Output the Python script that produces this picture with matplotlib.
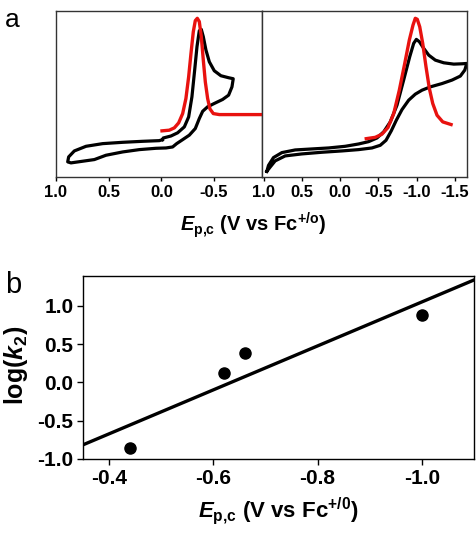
import numpy as np
import matplotlib
matplotlib.use("Agg")
import matplotlib.pyplot as plt

plt.rcParams["font.family"] = ["Liberation Sans", "DejaVu Sans"]
plt.rcParams["font.weight"] = "bold"
plt.rcParams["axes.unicode_minus"] = False
plt.rcParams["mathtext.fontset"] = "custom"
plt.rcParams["mathtext.rm"] = "Liberation Sans:bold"
plt.rcParams["mathtext.it"] = "Liberation Sans:bold:italic"
plt.rcParams["mathtext.bf"] = "Liberation Sans:bold"

# panel a, left: CV loop (potential in V vs Fc, current normalised)
cv1_e = [-0.01, -0.018, -0.091, -0.154, -0.218, -0.259, -0.290, -0.316, -0.338, -0.360,
         -0.379, -0.398, -0.423, -0.455, -0.502, -0.565, -0.638, -0.682, -0.670, -0.638,
         -0.581, -0.502, -0.439, -0.392, -0.360, -0.322, -0.265, -0.202, -0.145, -0.107,
         -0.044, 0.051, 0.209, 0.367, 0.526, 0.636, 0.747, 0.858, 0.889, 0.880,
         0.826, 0.715, 0.557, 0.367, 0.178, 0.020, -0.01]
cv1_i = [0.225, 0.235, 0.247, 0.266, 0.302, 0.362, 0.483, 0.644, 0.785, 0.881,
         0.889, 0.845, 0.765, 0.694, 0.640, 0.610, 0.598, 0.592, 0.543, 0.493,
         0.467, 0.443, 0.423, 0.396, 0.352, 0.292, 0.252, 0.225, 0.201, 0.181,
         0.175, 0.173, 0.165, 0.151, 0.131, 0.105, 0.095, 0.085, 0.091, 0.121,
         0.157, 0.185, 0.201, 0.209, 0.215, 0.219, 0.225]
fit1_e = [-0.006, -0.075, -0.123, -0.164, -0.202, -0.233, -0.259, -0.281, -0.303, -0.322,
          -0.341, -0.360, -0.379, -0.398, -0.417, -0.439, -0.461, -0.493, -0.550, -0.961, -0.985]
fit1_i = [0.278, 0.282, 0.296, 0.326, 0.382, 0.473, 0.604, 0.744, 0.875, 0.942,
          0.956, 0.936, 0.845, 0.704, 0.573, 0.473, 0.410, 0.382, 0.376, 0.376, 0.376]

# panel a, right
cv2_e = [0.957, 0.935, 0.870, 0.760, 0.586, 0.368, 0.149, -0.068, -0.243, -0.374,
         -0.483, -0.571, -0.657, -0.745, -0.832, -0.911, -0.963, -0.998, -1.037, -1.094,
         -1.160, -1.246, -1.356, -1.487, -1.596, -1.657, -1.631, -1.573, -1.465, -1.334,
         -1.181, -1.072, -0.984, -0.898, -0.810, -0.736, -0.670, -0.601, -0.526, -0.418,
         -0.243, -0.025, 0.237, 0.499, 0.717, 0.848, 0.913, 0.957]
cv2_i = [0.034, 0.070, 0.117, 0.147, 0.163, 0.169, 0.175, 0.185, 0.199, 0.213,
         0.235, 0.272, 0.332, 0.433, 0.584, 0.724, 0.805, 0.829, 0.815, 0.775,
         0.734, 0.704, 0.688, 0.680, 0.682, 0.684, 0.644, 0.608, 0.584, 0.563,
         0.543, 0.523, 0.499, 0.463, 0.406, 0.342, 0.278, 0.221, 0.191, 0.175,
         0.165, 0.157, 0.149, 0.139, 0.127, 0.097, 0.060, 0.034]
fit2_e = [-0.343, -0.461, -0.548, -0.627, -0.702, -0.775, -0.846, -0.906, -0.954, -0.984,
          -1.010, -1.042, -1.081, -1.124, -1.168, -1.212, -1.268, -1.343, -1.452]
fit2_i = [0.231, 0.239, 0.258, 0.298, 0.382, 0.523, 0.684, 0.825, 0.915, 0.956,
          0.950, 0.905, 0.805, 0.664, 0.533, 0.443, 0.372, 0.332, 0.316]

# panel b
ep = [-0.44, -0.62, -0.66, -1.00]
logk = [-0.85, 0.12, 0.38, 0.88]

W, H = 477, 534
fig = plt.figure(figsize=(W / 100, H / 100), dpi=100)

ax1 = fig.add_axes([56 / W, 1 - 177 / H, 206 / W, 166 / H])
ax2 = fig.add_axes([262 / W, 1 - 177 / H, 205 / W, 166 / H])

ax1.plot(cv1_e, cv1_i, color="black", lw=2.3, solid_joinstyle="round")
ax1.plot(fit1_e, fit1_i, color="#e8120f", lw=2.4, solid_joinstyle="round", clip_on=False, zorder=5)
ax2.plot(cv2_e, cv2_i, color="black", lw=2.3, solid_joinstyle="round")
ax2.plot(fit2_e, fit2_i, color="#e8120f", lw=2.4, solid_joinstyle="round")

ax1.set_xlim(1.0, -0.955)
ax2.set_xlim(1.02, -1.66)
ax1.set_xticks([1.0, 0.5, 0.0, -0.5])
ax2.set_xticks([1.0, 0.5, 0.0, -0.5, -1.0, -1.5])
for ax in (ax1, ax2):
    ax.set_ylim(0, 1)
    ax.set_yticks([])
    ax.tick_params(axis="x", direction="out", length=3, width=1, pad=3, labelsize=12)
    for s in ax.spines.values():
        s.set_linewidth(1.0)
        s.set_color("#333333")
    for lab in ax.get_xticklabels():
        lab.set_fontweight("bold")

fig.text(253 / W, 1 - 231 / H, r"$E_{\rm p{,}c}$ (V vs Fc$^{\rm {+}/o}$)", ha="center",
         va="baseline", fontsize=14.5, fontweight="bold")
fig.text(5 / W, 1 - 27 / H, "a", fontsize=19, fontweight="normal", va="baseline")

axb = fig.add_axes([83 / W, 1 - 459 / H, 391 / W, 183 / H])
slope, icpt = np.polyfit(ep, logk, 1)
xs = np.array([-0.35, -1.1])
axb.plot(xs, slope * xs + icpt, color="black", lw=2.4)
axb.plot(ep, logk, "o", color="black", ms=8)
axb.set_xlim(-0.35, -1.1)
axb.set_ylim(-1.0, 1.39)
axb.set_xticks([-0.4, -0.6, -0.8, -1.0])
axb.set_yticks([-1.0, -0.5, 0.0, 0.5, 1.0])
axb.tick_params(direction="out", length=4, width=1, pad=3, labelsize=15)
for s in axb.spines.values():
    s.set_linewidth(1.0)
fig.text(278 / W, 1 - 518 / H, r"$E_{\rm p{,}c}$ (V vs Fc$^{\rm {+}/0}$)", ha="center",
         va="baseline", fontsize=16, fontweight="bold")
fig.text(2 / W, 1 - 365 / H, r"log($k_{\rm 2}$)", rotation=90, ha="left", va="center",
         fontsize=18, fontweight="bold")
fig.text(5 / W, 1 - 293 / H, "b", fontsize=21, fontweight="normal", va="baseline")

fig.savefig("out.png", dpi=100)
